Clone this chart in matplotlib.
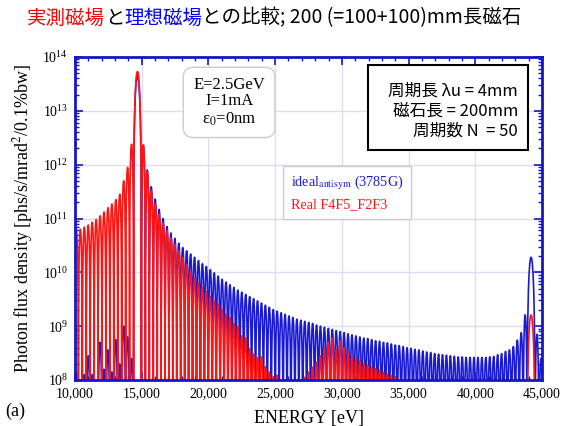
import numpy as np
import matplotlib
matplotlib.use("Agg")
import matplotlib.pyplot as plt
from matplotlib.ticker import MultipleLocator, FuncFormatter, LogLocator
from matplotlib.patches import Rectangle

plt.rcParams['font.family'] = 'serif'
plt.rcParams['font.serif'] = ['Liberation Serif', 'DejaVu Serif']
plt.rcParams['mathtext.fontset'] = 'stix'
CJK = ['Noto Sans CJK JP', 'DejaVu Sans']

# lobe grid of the spectrum (eV): fundamental and lobe spacing E1/N
E1 = 14680
dE = 295
node_index = [m for m in range(-17, 105) if m not in (0, 100)]

# peak height of every lobe, log10(flux)
# order: 16 lobes below E1, main lobe, 98 lobes between, 3rd harmonic, 3 tail lobes
blue_below = [8.0, 8.15, 7.9, 8.1, 8.45, 8.1, 8.0, 8.7, 8.2, 8.56, 8.15, 8.75, 8.3, 9.0, 8.8, 8.4]
blue_main = 13.65
blue_between = [12.35, 11.90, 11.59, 11.36, 11.17, 11.00, 10.85, 10.73, 10.63, 10.54,
                10.46, 10.40, 10.34, 10.28, 10.22, 10.16, 10.11, 10.05, 9.99, 9.93,
                9.87, 9.82, 9.77, 9.72, 9.67, 9.63, 9.59, 9.55, 9.51, 9.47,
                9.43, 9.39, 9.35, 9.31, 9.28, 9.25, 9.22, 9.19, 9.16, 9.13,
                9.11, 9.09, 9.07, 9.05, 9.02, 9.00, 8.98, 8.96, 8.94, 8.92,
                8.90, 8.88, 8.86, 8.84, 8.82, 8.80, 8.78, 8.77, 8.75, 8.73,
                8.72, 8.70, 8.69, 8.67, 8.65, 8.64, 8.62, 8.60, 8.59, 8.57,
                8.56, 8.54, 8.52, 8.51, 8.49, 8.48, 8.47, 8.46, 8.45, 8.44,
                8.43, 8.43, 8.42, 8.42, 8.42, 8.42, 8.42, 8.42, 8.43, 8.44,
                8.47, 8.49, 8.53, 8.56, 8.62, 8.74, 8.88, 9.21]
blue_h3 = 10.28
blue_tail = [8.85, 8.4, 8.2]

red_below = [10.72, 10.76, 10.80, 10.84, 10.88, 10.93, 10.98, 11.05, 11.12, 11.20,
             11.27, 11.35, 11.45, 11.70, 11.95, 12.38]
red_main = 13.73
red_between = [12.37, 11.87, 11.52, 11.28, 11.08, 10.92, 10.78, 10.64, 10.52, 10.40,
               10.28, 10.15, 10.02, 9.90, 9.80, 9.72, 9.64, 9.55, 9.47, 9.42,
               9.32, 9.22, 9.16, 9.05, 8.99, 8.82, 8.78, 8.58, 8.48, 8.42,
               8.43, 8.25, 8.15, 8.06, 8.09, 7.90, 7.60, 7.80, 7.50, 7.70,
               7.80, 8.05, 8.15, 8.24, 8.33, 8.45, 8.60, 8.70, 8.78, 8.56,
               8.72, 8.60, 8.50, 8.43, 8.39, 8.35, 8.30, 8.27, 8.24, 8.21,
               8.18, 8.14, 8.11, 8.08, 8.05, 7.5, 7.0, 7.0, 7.0, 7.0,
               7.0, 7.0, 7.0, 7.0, 7.0, 7.0, 7.0, 7.0, 7.0, 7.0,
               7.0, 7.0, 7.0, 7.0, 7.0, 7.0, 7.0, 7.0, 7.0, 7.0,
               7.0, 7.0, 7.0, 7.0, 7.0, 7.0, 7.0, 7.8]
red_h3 = 9.21
red_tail = [7.5, 7.0, 7.0]

blue_peaks = blue_below + [blue_main] + blue_between + [blue_h3] + blue_tail
red_peaks = red_below + [red_main] + red_between + [red_h3] + red_tail
nodes = E1 + dE * np.array(node_index)


def lobe_curve(nodes, peaks, npts=25):
    xs, ys = [], []
    for a, b, p in zip(nodes[:-1], nodes[1:], peaks):
        t = np.linspace(0, 1, npts)
        xs.append(a + (b - a) * t)
        ys.append(10 ** p * np.sin(np.pi * t) ** 2 + 1e4)
    return np.concatenate(xs), np.concatenate(ys)


fig = plt.figure(figsize=(5.66, 4.26), dpi=100)
ax = fig.add_axes([75 / 566, 46 / 426, 467 / 566, 323 / 426])

axcol = '#1616c8'
bx, by = lobe_curve(nodes, blue_peaks)
rx, ry = lobe_curve(nodes, red_peaks)
ax.plot(bx, by, color='#1a1ad2', lw=1.2, label='ideal$_{\\rm antisym}$ (3785G)')
ax.plot(rx, ry, color='#ff1414', lw=1.2, label='Real F4F5_F2F3')

ax.set_yscale('log')
ax.set_xlim(10000, 45000)
ax.set_ylim(1e8, 1e14)
ax.xaxis.set_major_locator(MultipleLocator(5000))
ax.xaxis.set_minor_locator(MultipleLocator(1000))
ax.xaxis.set_major_formatter(FuncFormatter(lambda v, p: f"{int(v):,}"))
ax.yaxis.set_major_locator(LogLocator(base=10, numticks=10))
ax.yaxis.set_minor_locator(LogLocator(base=10, subs=np.arange(2, 10), numticks=20))
ax.tick_params(which='both', direction='in', top=True, right=True, color=axcol,
               labelsize=10, pad=5)
ax.tick_params(which='major', length=6, width=1.2)
ax.tick_params(which='minor', length=3, width=1)
for s in ax.spines.values():
    s.set_color(axcol)
    s.set_linewidth(2)
ax.grid(True, which='major', color='#dcdcf8', lw=1)
ax.set_axisbelow(True)

ax.set_xlabel('ENERGY [eV]', fontsize=13, labelpad=7)
ax.set_ylabel('Photon flux density [phs/s/mrad$^2$/0.1%bw]', fontsize=13, labelpad=5)

leg = ax.legend(loc='upper left', bbox_to_anchor=(0.43, 0.685), handlelength=0,
                handletextpad=0, fontsize=10.2, fancybox=False, edgecolor='#cccccc',
                framealpha=1, borderpad=0.55, labelspacing=0.45)
for txt, ln in zip(leg.get_texts(), leg.get_lines()):
    txt.set_color(ln.get_color())

ax.text(0.33, 0.86, 'E=2.5GeV\nI=1mA\nε$_0$=0nm', transform=ax.transAxes,
        ha='center', va='center', fontsize=12, linespacing=1.05,
        bbox=dict(boxstyle='round,pad=0.6', fc='white', ec='#cccccc', lw=1))

fig.patches.append(Rectangle((368 / 566, 1 - 150 / 426), 160 / 566, 85 / 426,
                             transform=fig.transFigure, fc='white', ec='black', lw=1.5))
fig.text(518 / 566, 1 - 111 / 426, '周期長 λu = 4mm\n磁石長 = 200mm\n周期数 N  = 50',
         ha='right', va='center', fontsize=12, family=CJK, linespacing=1.25,
         multialignment='right')

# title in three colours
parts = [('実測磁場', '#ff0000'), ('と', 'black'), ('理想磁場', '#0000ff'),
         ('との比較; 200 (=100+100)mm長磁石', 'black')]
renderer = fig.canvas.get_renderer()
x = 27 / 566
for s, c in parts:
    t = fig.text(x, 1 - 18 / 426, s, color=c, fontsize=14, family=CJK, va='center')
    bb = t.get_window_extent(renderer)
    x = fig.transFigure.inverted().transform((bb.x1, bb.y0))[0]

fig.text(5 / 566, 1 - 411 / 426, '(a)', fontsize=13, va='center')

fig.savefig('out.png', dpi=100)
